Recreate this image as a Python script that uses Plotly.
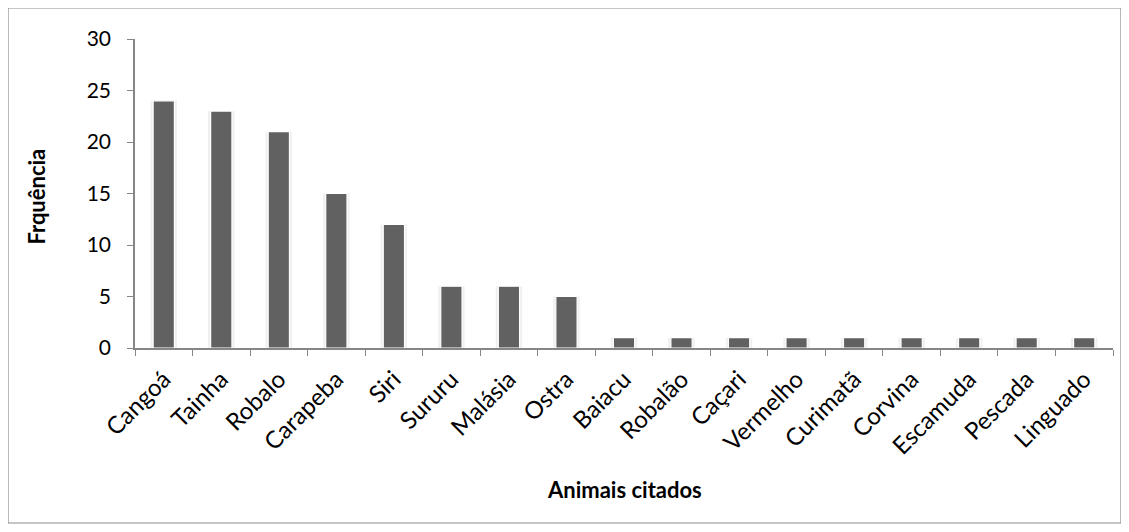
import plotly.graph_objects as go

animais = ["Cangoá", "Tainha", "Robalo", "Carapeba", "Siri", "Sururu", "Malásia",
           "Ostra", "Baiacu", "Robalão", "Caçari", "Vermelho", "Curimatã", "Corvina",
           "Escamuda", "Pescada", "Linguado"]
frequencia = [24, 23, 21, 15, 12, 6, 6, 5, 1, 1, 1, 1, 1, 1, 1, 1, 1]
y_ticks = [0, 5, 10, 15, 20, 25, 30]

# page body adds an 8px offset, so figure coords are screen coords minus 8
W, H = 1129, 532
L, R, T, B = 127, 24, 31, 192
pw, ph = W - L - R, H - T - B


def px_x(x):
    return (x - L) / pw


def px_y(y):
    return (H - B - y) / ph


fig = go.Figure()

# faint halo behind the bars (Excel-style shadow)
fig.add_trace(go.Bar(
    x=animais, y=frequencia, width=0.46,
    marker=dict(color="#f0f0f0", line=dict(width=0)),
    hoverinfo="skip", showlegend=False
))
fig.add_trace(go.Bar(
    x=animais, y=frequencia, width=0.37,
    marker=dict(color="#616161", line=dict(color="#ffffff", width=1.2)),
    showlegend=False
))

# outer frame around the chart
fig.add_shape(type="rect", xref="paper", yref="paper",
              x0=px_x(0), x1=px_x(1113), y0=px_y(515), y1=px_y(0),
              line=dict(color="#8c8c8c", width=1.2), fillcolor="rgba(0,0,0,0)")

font = "Lato, 'Open Sans', sans-serif"

fig.add_annotation(text="<b>Animais citados</b>", xref="paper", yref="paper",
                   x=0.5, y=px_y(481), xanchor="center", yanchor="middle",
                   showarrow=False, font=dict(family=font, size=22))
fig.add_annotation(text="<b>Frquência</b>", xref="paper", yref="paper",
                   x=px_x(29), y=0.49, xanchor="center", yanchor="middle",
                   textangle=-90, showarrow=False,
                   font=dict(family=font, size=22))

fig.update_layout(
    barmode="overlay",
    width=W, height=H,
    margin=dict(l=L, r=R, t=T, b=B, autoexpand=False),
    plot_bgcolor="white", paper_bgcolor="white",
    font=dict(family=font, size=20, color="#000000"),
    xaxis=dict(
        type="category", tickangle=-45, tickson="boundaries", automargin=False,
        ticks="outside", ticklen=6, tickcolor="#868686",
        showline=True, linecolor="#868686", linewidth=1.5,
        showgrid=False, ticklabelstandoff=6,
        tickfont=dict(family=font, size=24),
    ),
    yaxis=dict(
        range=[0, 30], tickvals=y_ticks, automargin=False,
        ticks="outside", ticklen=6, tickcolor="#868686",
        showline=True, linecolor="#868686", linewidth=1.5,
        showgrid=False, zeroline=False, ticklabelstandoff=12,
        tickfont=dict(family=font, size=21),
    ),
)

fig.write_html("out.html")
